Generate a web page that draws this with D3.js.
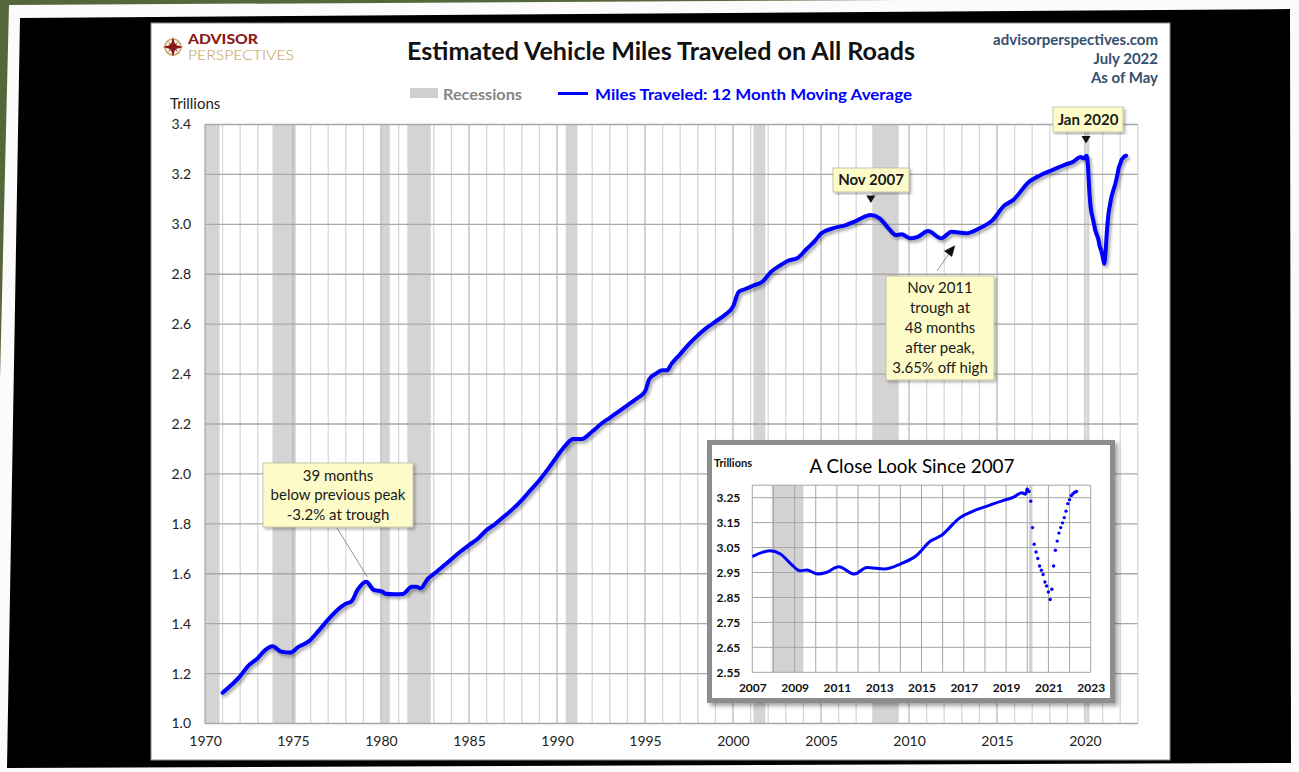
<!DOCTYPE html>
<html>
<head>
<meta charset="utf-8">
<script src="https://cdn.jsdelivr.net/npm/d3@7"></script>
<style>
  html, body { margin: 0; padding: 0; background: #fff; overflow: hidden; }
  svg { display: block; font-family: Lato, "Open Sans", sans-serif; }
</style>
</head>
<body>
<svg id="chart" width="1299" height="772"></svg>
<script>
// 12 month moving average of vehicle miles traveled, trillions
var trendMonths = [
  "1971-01","1971-07","1972-01","1972-06","1973-01","1973-06","1973-11","1974-05","1974-11",
  "1975-05","1975-12","1976-06","1976-12","1977-06","1978-01","1978-05","1978-09","1979-03",
  "1979-08","1980-02","1980-04","1980-10","1981-04","1981-10","1982-01","1982-04","1982-09",
  "1983-03","1983-11","1984-07","1985-01","1985-07","1986-01","1986-07","1987-01","1987-07",
  "1988-01","1988-07","1989-01","1989-07","1990-01","1990-07","1990-12","1991-06","1992-01",
  "1992-07","1993-01","1993-07","1994-01","1994-07","1995-01","1995-04","1995-08","1996-01",
  "1996-04","1996-07","1997-01","1997-07","1998-01","1998-07","1999-01","1999-07","2000-01",
  "2000-05","2000-09","2001-03","2001-09","2002-03","2002-09","2003-03","2003-09","2004-03",
  "2004-09","2005-01","2005-09","2006-06","2007-01","2007-11","2008-05","2008-11","2009-04",
  "2009-08","2010-02","2010-07","2011-02","2011-11","2012-06","2013-04","2014-01","2014-10",
  "2015-06","2015-12","2016-11","2017-06","2018-03","2018-12","2019-05","2019-10","2019-12"
];
var trendValues = [
  1.123, 1.154, 1.190, 1.228, 1.262, 1.294, 1.310, 1.288, 1.284,
  1.308, 1.330, 1.368, 1.410, 1.448, 1.480, 1.490, 1.535, 1.568,
  1.535, 1.528, 1.520, 1.518, 1.519, 1.548, 1.548, 1.542, 1.580,
  1.608, 1.648, 1.688, 1.715, 1.740, 1.775, 1.800, 1.830, 1.860,
  1.895, 1.935, 1.975, 2.020, 2.070, 2.115, 2.140, 2.140, 2.170,
  2.200, 2.225, 2.250, 2.275, 2.300, 2.330, 2.380, 2.400, 2.415,
  2.415, 2.440, 2.480, 2.520, 2.555, 2.585, 2.610, 2.635, 2.670,
  2.730, 2.740, 2.755, 2.770, 2.810, 2.835, 2.855, 2.865, 2.900,
  2.935, 2.963, 2.984, 2.997, 3.014, 3.037, 3.024, 2.984, 2.957,
  2.960, 2.944, 2.950, 2.973, 2.944, 2.970, 2.964, 2.984, 3.017,
  3.075, 3.097, 3.171, 3.195, 3.218, 3.240, 3.251, 3.270, 3.264
];
// monthly points since the Jan 2020 peak (the dots of the inset)
var covidMonths = [
  "2020-01","2020-02","2020-03","2020-04","2020-05","2020-06","2020-07","2020-08","2020-09","2020-10",
  "2020-11","2020-12","2021-01","2021-02","2021-03","2021-04","2021-05","2021-06","2021-07","2021-08",
  "2021-09","2021-10","2021-11","2021-12","2022-01","2022-02","2022-03","2022-04","2022-05"
];
var covidValues = [
  3.284, 3.275, 3.236, 3.130, 3.063, 3.032, 3.006, 2.976, 2.959, 2.942,
  2.912, 2.896, 2.872, 2.842, 2.883, 2.976, 3.039, 3.076, 3.108, 3.130,
  3.149, 3.170, 3.196, 3.226, 3.242, 3.259, 3.266, 3.272, 3.275
];
var recessionStarts = ["1969-12","1973-11","1980-01","1981-07","1990-07","2001-03","2007-12","2020-02"];
var recessionEnds   = ["1970-11","1975-03","1980-07","1982-11","1991-03","2001-11","2009-06","2020-04"];
var yTicks = [1.0, 1.2, 1.4, 1.6, 1.8, 2.0, 2.2, 2.4, 2.6, 2.8, 3.0, 3.2, 3.4];
var xTickYears = [1970, 1975, 1980, 1985, 1990, 1995, 2000, 2005, 2010, 2015, 2020];
var insetYTicks = [2.55, 2.65, 2.75, 2.85, 2.95, 3.05, 3.15, 3.25];
var insetXTickYears = [2007, 2009, 2011, 2013, 2015, 2017, 2019, 2021, 2023];

var parse = d3.timeParse("%Y-%m");
var trend = trendMonths.map(function (m, i) { return { date: parse(m), v: trendValues[i] }; });
var covid = covidMonths.map(function (m, i) { return { date: parse(m), v: covidValues[i] }; });
var series = trend.concat(covid.slice(1));
var recessions = recessionStarts.map(function (s, i) {
  return { start: parse(s), end: parse(recessionEnds[i]) };
});
function yr(y) { return new Date(y, 0, 1); }

var svg = d3.select("#chart");
var defs = svg.append("defs");

function shadow(id, dx, dy, sd, op) {
  defs.append("filter").attr("id", id)
    .attr("x", "-10%").attr("y", "-10%").attr("width", "120%").attr("height", "120%")
    .append("feDropShadow")
    .attr("dx", dx).attr("dy", dy).attr("stdDeviation", sd)
    .attr("flood-color", "#000").attr("flood-opacity", op);
}
shadow("lineShadow", 2, 2.5, 1.6, 0.35);
shadow("boxShadow", 2, 2, 1.5, 0.3);
shadow("insetShadow", 3, 3, 2, 0.35);

// photo frame around the chart
svg.append("rect").attr("width", 1299).attr("height", 772).attr("fill", "#55663a");
svg.append("polygon").attr("fill", "#fbfbfb")
  .attr("points", "9,5 900,0 1299,0 1299,772 0,772 0,380");
svg.append("polygon").attr("fill", "#000")
  .attr("points", "20,18 1290,9 1291,763 7,768");
svg.append("rect").attr("x", 151).attr("y", 23).attr("width", 1019).attr("height", 737)
  .attr("fill", "#fff").attr("stroke", "#8a8a8a").attr("stroke-width", 1);

// ---------- main chart ----------
var x = d3.scaleTime().domain([yr(1970), yr(2023)]).range([205, 1137.8]);
var y = d3.scaleLinear().domain([1.0, 3.4]).range([723.5, 124.5]);

var plot = svg.append("g");

plot.selectAll("rect.rec").data(recessions).enter().append("rect")
  .attr("class", "rec")
  .attr("x", function (d) { return Math.max(x(d.start), x.range()[0]); })
  .attr("width", function (d) { return x(d.end) - Math.max(x(d.start), x.range()[0]); })
  .attr("y", y(3.4)).attr("height", y(1.0) - y(3.4))
  .attr("fill", "#d4d4d4");

plot.selectAll("line.vgrid").data(d3.timeYear.range(yr(1971), yr(2024))).enter().append("line")
  .attr("class", "vgrid")
  .attr("x1", function (d) { return x(d); }).attr("x2", function (d) { return x(d); })
  .attr("y1", y(3.4)).attr("y2", y(1.0))
  .attr("stroke", function (d) { return d.getFullYear() % 5 === 0 ? "#b4b4b4" : "#d6d6d6"; })
  .attr("stroke-width", 1.2);

plot.selectAll("line.hgrid").data(yTicks).enter().append("line")
  .attr("class", "hgrid")
  .attr("x1", x.range()[0]).attr("x2", x.range()[1])
  .attr("y1", function (d) { return y(d); }).attr("y2", function (d) { return y(d); })
  .attr("stroke", "#a9a9a9").attr("stroke-width", 1.3);

plot.append("line")
  .attr("x1", x.range()[0]).attr("x2", x.range()[0])
  .attr("y1", y(3.4)).attr("y2", y(1.0))
  .attr("stroke", "#a9a9a9").attr("stroke-width", 1.3);

var yAxis = plot.append("g").attr("transform", "translate(" + x.range()[0] + ",0)")
  .call(d3.axisLeft(y).tickValues(yTicks).tickFormat(d3.format(".1f")).tickSize(0).tickPadding(14));
var xAxis = plot.append("g").attr("transform", "translate(0," + y(1.0) + ")")
  .call(d3.axisBottom(x).tickValues(xTickYears.map(yr)).tickFormat(d3.timeFormat("%Y")).tickSize(0).tickPadding(13));
[yAxis, xAxis].forEach(function (a) {
  a.select(".domain").remove();
  a.selectAll("text").attr("font-family", "Lato, sans-serif").attr("font-size", 14).attr("fill", "#222");
});

var line = d3.line().curve(d3.curveMonotoneX)
  .x(function (d) { return x(d.date); }).y(function (d) { return y(d.v); });
plot.append("path").datum(series)
  .attr("d", line).attr("fill", "none")
  .attr("stroke", "#0000ff").attr("stroke-width", 4)
  .attr("stroke-linejoin", "round").attr("stroke-linecap", "round")
  .attr("filter", "url(#lineShadow)");

svg.append("text").attr("x", 170).attr("y", 109).attr("font-size", 15).attr("fill", "#222").text("Trillions");

// ---------- header ----------
var logo = svg.append("g").attr("transform", "translate(173,47)");
logo.append("circle").attr("r", 8).attr("fill", "none").attr("stroke", "#c9a55a").attr("stroke-width", 1.6);
logo.append("path").attr("fill", "#8b1a1a")
  .attr("d", "M0,-10 L2.2,-2.2 L10,0 L2.2,2.2 L0,10 L-2.2,2.2 L-10,0 L-2.2,-2.2 Z");
logo.append("path").attr("fill", "#8b1a1a")
  .attr("d", "M-5,-5 L1,-1 L5,5 L-1,1 Z M5,-5 L1,1 L-5,5 L-1,-1 Z");
svg.append("text").attr("x", 188).attr("y", 43.5).attr("font-size", 13).attr("font-weight", 900)
  .attr("fill", "#8b1a1a").attr("textLength", 70).attr("lengthAdjust", "spacingAndGlyphs").text("ADVISOR");
svg.append("text").attr("x", 188).attr("y", 60).attr("font-size", 13.5).attr("font-weight", 300)
  .attr("fill", "#c09a4a").attr("textLength", 106).attr("lengthAdjust", "spacingAndGlyphs").text("PERSPECTIVES");

svg.append("text").attr("x", 661).attr("y", 60).attr("text-anchor", "middle")
  .attr("font-size", 24).attr("font-weight", 700).attr("fill", "#111")
  .attr("textLength", 508).attr("lengthAdjust", "spacingAndGlyphs")
  .text("Estimated Vehicle Miles Traveled on All Roads");

var srcLines = ["advisorperspectives.com", "July 2022", "As of May"];
svg.selectAll("text.src").data(srcLines).enter().append("text")
  .attr("class", "src")
  .attr("x", 1158).attr("y", function (d, i) { return 45 + i * 19.2; })
  .attr("text-anchor", "end").attr("font-size", 15).attr("font-weight", 700).attr("fill", "#34506e")
  .text(function (d) { return d; });

// legend
svg.append("rect").attr("x", 410).attr("y", 88).attr("width", 28).attr("height", 10).attr("fill", "#d0d0d0");
svg.append("text").attr("x", 443).attr("y", 99.5).attr("font-size", 15.5).attr("font-weight", 700)
  .attr("fill", "#858585").attr("textLength", 79).attr("lengthAdjust", "spacingAndGlyphs").text("Recessions");
svg.append("line").attr("x1", 558).attr("x2", 588).attr("y1", 93.5).attr("y2", 93.5)
  .attr("stroke", "#0000ff").attr("stroke-width", 3);
svg.append("text").attr("x", 595).attr("y", 99.5).attr("font-size", 15.5).attr("font-weight", 700)
  .attr("fill", "#0000ff").attr("textLength", 317).attr("lengthAdjust", "spacingAndGlyphs")
  .text("Miles Traveled: 12 Month Moving Average");

// ---------- callouts ----------
function callout(bx, by, bw, bh, lines, bold, lineGap, firstBase) {
  var g = svg.append("g");
  g.append("rect").attr("x", bx).attr("y", by).attr("width", bw).attr("height", bh)
    .attr("fill", "#fdfcc8").attr("stroke", "#b8b8a0").attr("stroke-width", 0.8)
    .attr("filter", "url(#boxShadow)");
  g.selectAll("text").data(lines).enter().append("text")
    .attr("x", bx + bw / 2).attr("y", function (d, i) { return by + firstBase + i * lineGap; })
    .attr("text-anchor", "middle").attr("font-size", 15)
    .attr("font-weight", bold ? 700 : 400).attr("fill", "#1a1a1a")
    .text(function (d) { return d; });
  return g;
}
function downArrow(px, tipY) {
  svg.append("path").attr("fill", "#111")
    .attr("d", "M" + (px - 4.5) + "," + (tipY - 7.5) + " L" + (px + 4.5) + "," + (tipY - 7.5) + " L" + px + "," + tipY + " Z");
}

var peak79 = trend[trendMonths.indexOf("1979-03")];
svg.append("line").attr("x1", 337).attr("y1", 528).attr("x2", x(peak79.date) + 1).attr("y2", y(peak79.v) - 5)
  .attr("stroke", "#777").attr("stroke-width", 0.8);
callout(263, 463, 150, 64, ["39 months", "below previous peak", "-3.2% at trough"], false, 19.3, 18);

var peak07 = trend[trendMonths.indexOf("2007-11")];
callout(833, 168, 76, 24, ["Nov 2007"], true, 0, 17);
downArrow(x(peak07.date), y(peak07.v) - 12);

var peak20 = covid[0];
callout(1053, 107, 70, 25, ["Jan 2020"], true, 0, 17.5);
downArrow(x(peak20.date) + 1, y(peak20.v) - 10);

var trough11 = trend[trendMonths.indexOf("2011-11")];
svg.append("line").attr("x1", 937).attr("y1", 271).attr("x2", 950).attr("y2", 252)
  .attr("stroke", "#777").attr("stroke-width", 0.8);
svg.append("path").attr("fill", "#111")
  .attr("d", "M" + (x(trough11.date) + 14) + "," + (y(trough11.v) + 7) + " L944,251 L952,257 Z");
callout(886, 276, 108, 104, ["Nov 2011", "trough at", "48 months", "after peak,", "3.65% off high"], false, 20, 16.5);

// ---------- inset: a close look since 2007 ----------
var ix = d3.scaleTime().domain([yr(2007), yr(2023)]).range([752.3, 1090.7]);
var iy = d3.scaleLinear().domain([2.55, 3.30]).range([672.3, 485.2]);

var inset = svg.append("g");
inset.append("rect").attr("x", 709.5).attr("y", 442.5).attr("width", 403).attr("height", 258)
  .attr("fill", "#fff").attr("stroke", "#8d8d8d").attr("stroke-width", 5)
  .attr("filter", "url(#insetShadow)");

inset.selectAll("rect.irec").data(recessions.filter(function (d) { return d.start >= yr(2007); }))
  .enter().append("rect").attr("class", "irec")
  .attr("x", function (d) { return ix(d.start); })
  .attr("width", function (d) { return ix(d.end) - ix(d.start); })
  .attr("y", iy(3.30)).attr("height", iy(2.55) - iy(3.30))
  .attr("fill", "#d2d2d2");

inset.selectAll("line.ivgrid").data(d3.timeYear.range(yr(2007), yr(2024))).enter().append("line")
  .attr("class", "ivgrid")
  .attr("x1", function (d) { return ix(d); }).attr("x2", function (d) { return ix(d); })
  .attr("y1", iy(3.30)).attr("y2", iy(2.55))
  .attr("stroke", "#a6a6a6").attr("stroke-width", 1);
inset.selectAll("line.ihgrid").data(insetYTicks.concat([3.30])).enter().append("line")
  .attr("class", "ihgrid")
  .attr("x1", ix.range()[0]).attr("x2", ix.range()[1])
  .attr("y1", function (d) { return iy(d); }).attr("y2", function (d) { return iy(d); })
  .attr("stroke", "#a6a6a6").attr("stroke-width", 1);

var iyAxis = inset.append("g").attr("transform", "translate(" + ix.range()[0] + ",0)")
  .call(d3.axisLeft(iy).tickValues(insetYTicks).tickFormat(d3.format(".2f")).tickSize(0).tickPadding(12));
var ixAxis = inset.append("g").attr("transform", "translate(0," + iy(2.55) + ")")
  .call(d3.axisBottom(ix).tickValues(insetXTickYears.map(yr)).tickFormat(d3.timeFormat("%Y")).tickSize(0).tickPadding(11));
[iyAxis, ixAxis].forEach(function (a) {
  a.select(".domain").remove();
  a.selectAll("text").attr("font-family", "Lato, sans-serif").attr("font-size", 12)
    .attr("font-weight", 700).attr("fill", "#111");
});

var iline = d3.line().curve(d3.curveMonotoneX)
  .x(function (d) { return ix(d.date); }).y(function (d) { return iy(d.v); });
inset.append("path")
  .datum(trend.filter(function (d) { return d.date >= yr(2007); }).concat([covid[0]]))
  .attr("d", iline).attr("fill", "none")
  .attr("stroke", "#0000ff").attr("stroke-width", 3).attr("stroke-linejoin", "round");
inset.selectAll("circle.dot").data(covid).enter().append("circle")
  .attr("class", "dot")
  .attr("cx", function (d) { return ix(d.date); }).attr("cy", function (d) { return iy(d.v); })
  .attr("r", 1.7).attr("fill", "#0000ff");

inset.append("text").attr("x", 714).attr("y", 467).attr("font-size", 11).attr("font-weight", 700)
  .attr("fill", "#111").text("Trillions");
inset.append("text").attr("x", 912).attr("y", 473).attr("text-anchor", "middle")
  .attr("font-size", 20).attr("fill", "#000").attr("textLength", 205).attr("lengthAdjust", "spacingAndGlyphs")
  .text("A Close Look Since 2007");
</script>
</body>
</html>
